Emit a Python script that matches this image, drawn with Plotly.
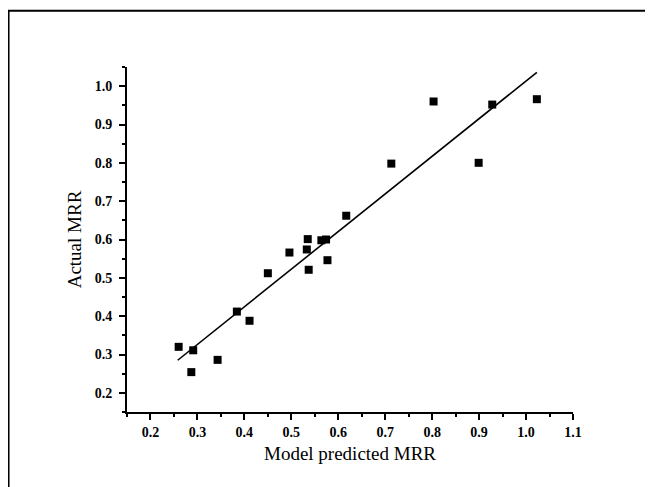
import plotly.graph_objects as go

predicted = [0.260, 0.287, 0.291, 0.343, 0.384, 0.411, 0.450, 0.496, 0.533, 0.535,
             0.537, 0.564, 0.574, 0.577, 0.617, 0.713, 0.803, 0.899, 0.928, 1.023]
actual = [0.320, 0.254, 0.311, 0.286, 0.412, 0.388, 0.512, 0.566, 0.574, 0.601,
          0.521, 0.598, 0.600, 0.546, 0.662, 0.798, 0.960, 0.800, 0.952, 0.966]
fit_x = [0.258, 1.023]
fit_y = [0.285, 1.036]

x_ticks = [0.2, 0.3, 0.4, 0.5, 0.6, 0.7, 0.8, 0.9, 1.0, 1.1]
y_ticks = [0.2, 0.3, 0.4, 0.5, 0.6, 0.7, 0.8, 0.9, 1.0]

fig = go.Figure()
fig.add_trace(go.Scatter(x=fit_x, y=fit_y, mode="lines",
                         line=dict(color="black", width=1.6), showlegend=False))
fig.add_trace(go.Scatter(x=predicted, y=actual, mode="markers",
                         marker=dict(symbol="square", size=8, color="black"),
                         showlegend=False))

axis_common = dict(
    showgrid=False, zeroline=False, showline=True, linecolor="black", linewidth=2,
    ticks="outside", ticklen=6, tickwidth=2, tickcolor="black",
    tickfont=dict(family="Liberation Serif", size=14, color="black", weight="bold"),
    minor=dict(ticks="outside", ticklen=3, tickwidth=2, tickcolor="black", dtick=0.05, showgrid=False),
    mirror=False,
)

fig.update_xaxes(range=[0.15, 1.1], tickvals=x_ticks, ticktext=[f"{v:.1f}" for v in x_ticks],
                 title=dict(text="Model predicted MRR", standoff=8,
                            font=dict(family="Liberation Serif", size=19, color="black")),
                 **axis_common)
fig.update_yaxes(range=[0.15, 1.05], tickvals=y_ticks, ticktext=[f"{v:.1f}" for v in y_ticks],
                 title=dict(text="Actual MRR", standoff=8,
                            font=dict(family="Liberation Serif", size=19, color="black")),
                 ticklabelstandoff=4,
                 **axis_common)

fig.add_shape(type="rect", xref="paper", yref="paper",
              x0=-0.2656, x1=1.35, y0=-0.35, y1=1.1633,
              line=dict(color="black", width=2), fillcolor="rgba(0,0,0,0)", layer="below")

fig.update_layout(
    width=645, height=479,
    margin=dict(l=118.5, r=80.3, t=59.3, b=75),
    paper_bgcolor="white", plot_bgcolor="white",
    showlegend=False,
)

fig.write_html("out.html")
